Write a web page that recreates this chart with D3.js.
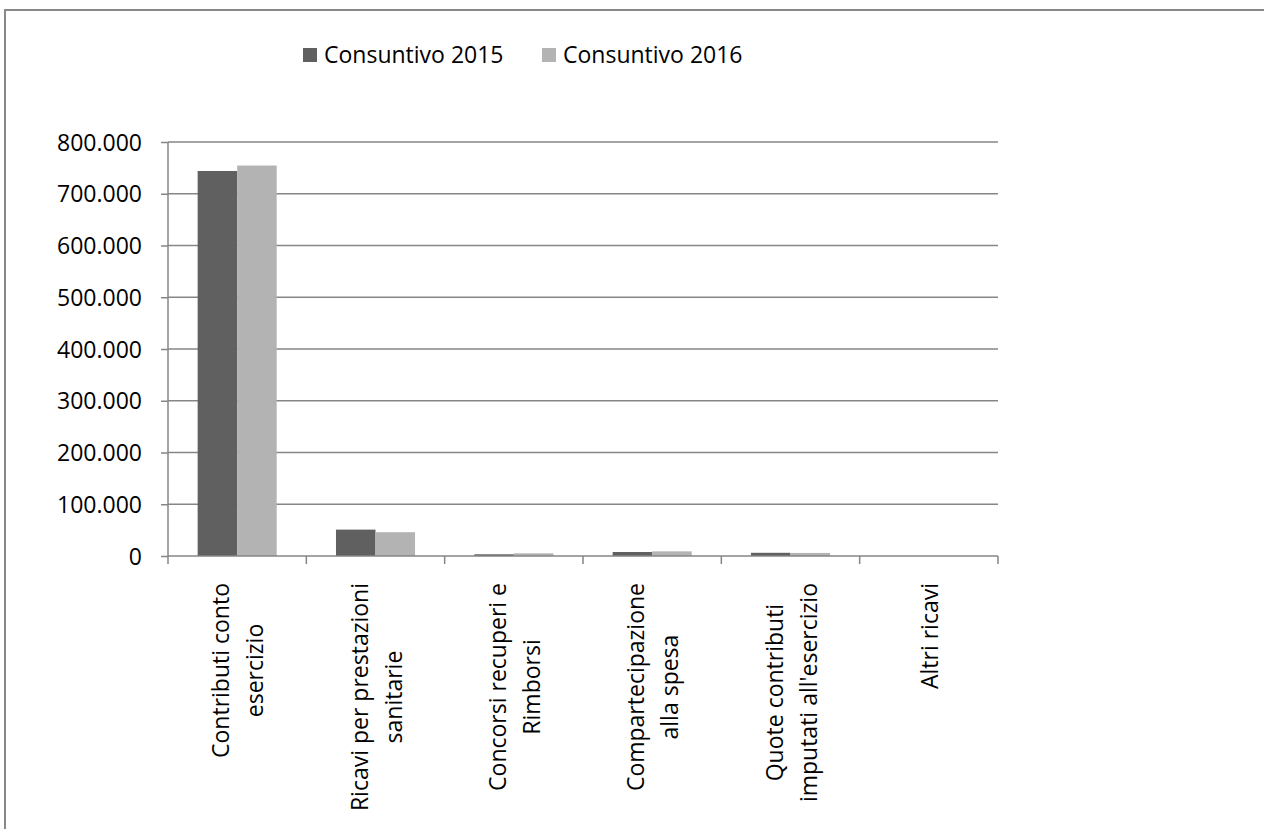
<!DOCTYPE html>
<html>
<head>
<meta charset="utf-8">
<script src="https://cdn.jsdelivr.net/npm/d3@7"></script>
<style>
  body { margin: 0; background: #fff; }
  text { font-family: "Open Sans", sans-serif; fill: #000; }
</style>
</head>
<body>
<script>
// Data
const categories = [
    ["Contributi conto", "esercizio"],
    ["Ricavi per prestazioni", "sanitarie"],
    ["Concorsi recuperi e", "Rimborsi"],
    ["Compartecipazione", "alla spesa"],
    ["Quote contributi", "imputati all'esercizio"],
    ["Altri ricavi"]
];
const seriesNames = ["Consuntivo 2015", "Consuntivo 2016"];
const values2015 = [744000, 51000, 3300, 7700, 6200, 0];
const values2016 = [754500, 46000, 5200, 9000, 5900, 0];
const yTicks = [0, 100000, 200000, 300000, 400000, 500000, 600000, 700000, 800000];

const colors = ["#606060", "#b3b3b3"];
const gridColor = "#868686";

const W = 1264, H = 829;
const margin = { left: 168, right: 998, top: 142, bottom: 556 };

const svg = d3.select("body").append("svg")
    .attr("width", W)
    .attr("height", H);

// outer frame (right and bottom edges run off the picture)
svg.append("rect")
    .attr("x", 5).attr("y", 10)
    .attr("width", W + 20).attr("height", H + 20)
    .attr("fill", "none")
    .attr("stroke", "#888")
    .attr("stroke-width", 2);

const keys = categories.map((d, i) => i);
const x0 = d3.scaleBand().domain(keys).range([margin.left, margin.right]).padding(0);
const x1 = d3.scaleBand().domain([0, 1]).range([0, x0.bandwidth()])
    .paddingInner(0).paddingOuter(0.75);
const y = d3.scaleLinear().domain([0, 800000]).range([margin.bottom, margin.top]);

const it = d3.formatLocale({ decimal: ",", thousands: ".", grouping: [3], currency: ["€", ""] });
const fmt = it.format(",.0f");

// gridlines
svg.append("g")
    .selectAll("line")
    .data(yTicks.filter(d => d > 0))
    .enter()
    .append("line")
    .attr("x1", margin.left).attr("x2", margin.right)
    .attr("y1", d => y(d)).attr("y2", d => y(d))
    .attr("stroke", gridColor)
    .attr("stroke-width", 1.5);

// bars
const series = [values2015, values2016];
series.forEach((vals, s) => {
    svg.append("g")
        .selectAll("rect")
        .data(vals)
        .enter()
        .append("rect")
        .attr("x", (d, i) => x0(i) + x1(s))
        .attr("width", x1.bandwidth())
        .attr("y", d => y(d))
        .attr("height", d => y(0) - y(d))
        .attr("fill", colors[s]);
});

// y axis
const yAxis = svg.append("g")
    .attr("transform", `translate(${margin.left},0)`)
    .call(d3.axisLeft(y).tickValues(yTicks).tickFormat(fmt).tickSize(7).tickPadding(19));
yAxis.selectAll("line, path").attr("stroke", gridColor).attr("stroke-width", 1.5);
yAxis.select(".domain").attr("d", `M0,${margin.top}V${margin.bottom}`);
yAxis.selectAll("text").style("font-size", "23px").attr("dy", "0.35em");

// x axis
const xAxisG = svg.append("g");
xAxisG.append("line")
    .attr("x1", margin.left).attr("x2", margin.right)
    .attr("y1", y(0)).attr("y2", y(0))
    .attr("stroke", gridColor).attr("stroke-width", 1.5);
xAxisG.selectAll(".tick")
    .data(keys.concat([keys.length]))
    .enter()
    .append("line")
    .attr("x1", d => d < keys.length ? x0(d) : margin.right)
    .attr("x2", d => d < keys.length ? x0(d) : margin.right)
    .attr("y1", y(0)).attr("y2", y(0) + 8)
    .attr("stroke", gridColor).attr("stroke-width", 1.5);

// category labels, rotated, lines centred on the category
const labelTop = 583;
const lineGap = 34;
categories.forEach((lines, i) => {
    const cx = x0(i) + x0.bandwidth() / 2;
    const g = svg.append("g");
    const texts = lines.map(t => g.append("text")
        .text(t)
        .style("font-size", "23px")
        .attr("text-anchor", "middle")
        .attr("dominant-baseline", "central"));
    const maxW = d3.max(texts, t => t.node().getComputedTextLength());
    texts.forEach((t, j) => {
        const lx = cx + (j - (lines.length - 1) / 2) * lineGap;
        t.attr("transform", `translate(${lx},${labelTop + maxW / 2}) rotate(-90)`);
    });
});

// legend
const legend = svg.append("g").attr("transform", "translate(303,48)");
const legendX = [0, 239];
seriesNames.forEach((name, s) => {
    const lg = legend.append("g").attr("transform", `translate(${legendX[s]},0)`);
    lg.append("rect").attr("width", 14).attr("height", 14).attr("fill", colors[s]);
    lg.append("text").attr("x", 21).attr("y", 7).attr("dy", "0.35em")
        .style("font-size", "23px").text(name);
});
</script>
</body>
</html>
